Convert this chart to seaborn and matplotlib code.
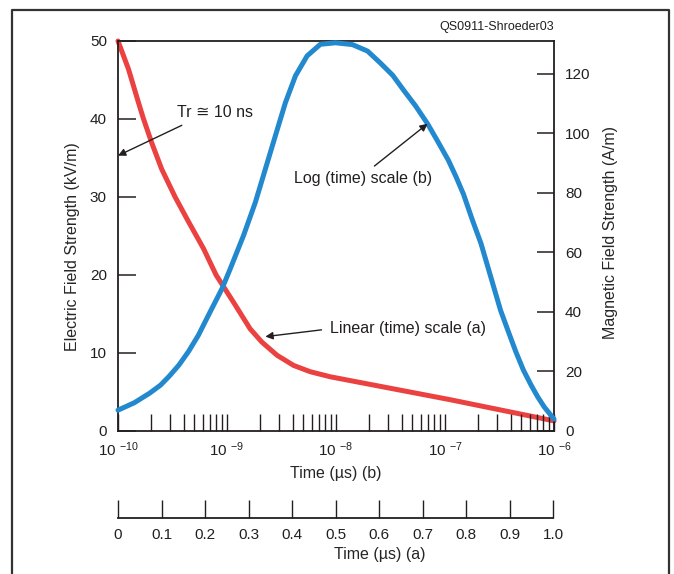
import numpy as np
import matplotlib
matplotlib.use('Agg')
import matplotlib.pyplot as plt
import seaborn as sns
from matplotlib.lines import Line2D
from matplotlib.ticker import LogLocator, NullFormatter, FixedLocator, FixedFormatter

# electric field vs linear time, curve (a)
e_time_us = [0.0, 0.024, 0.047, 0.058, 0.077, 0.100, 0.131, 0.162, 0.196, 0.225,
             0.265, 0.303, 0.330, 0.365, 0.403, 0.441, 0.487, 0.763, 1.0]
e_field_kvm = [50.0, 46.4, 42.1, 40.1, 37.0, 33.6, 30.0, 26.8, 23.4, 20.0,
               16.5, 13.1, 11.4, 9.7, 8.4, 7.6, 6.95, 4.0, 1.3]

# magnetic field vs log time, curve (b) -- time given as power of ten
h_time_exp = [-10.00, -9.85, -9.71, -9.61, -9.53, -9.44, -9.353, -9.262, -9.170, -9.046,
              -8.970, -8.848, -8.740, -8.648, -8.556, -8.464, -8.372, -8.265, -8.143, -8.005,
              -7.85, -7.71, -7.59, -7.48, -7.38, -7.27, -7.16, -7.07, -6.97, -6.90,
              -6.83, -6.75, -6.67, -6.61, -6.55, -6.49, -6.42, -6.35, -6.28, -6.21,
              -6.15, -6.09, -6.00]
h_field_am = [7.0, 9.5, 12.7, 15.4, 18.4, 22.2, 26.7, 32.2, 38.9, 47.8,
              54.5, 65.7, 76.8, 88.0, 99.2, 110.3, 119.3, 126.0, 129.9, 130.4,
              129.8, 127.6, 123.5, 119.5, 114.5, 109.2, 103.2, 97.5, 91.0, 85.5,
              79.5, 71.0, 63.0, 55.5, 48.0, 40.5, 33.5, 26.6, 20.4, 15.4,
              11.5, 8.1, 4.0]

e_ticks = [0, 10, 20, 30, 40, 50]
h_ticks = [0, 20, 40, 60, 80, 100, 120]
log_ticks = [1e-10, 1e-9, 1e-8, 1e-7, 1e-6]
log_labels = ['10 $^{-10}$', '10 $^{-9}$', '10 $^{-8}$', '10 $^{-7}$', '10 $^{-6}$']
lin_ticks = [0, 0.1, 0.2, 0.3, 0.4, 0.5, 0.6, 0.7, 0.8, 0.9, 1.0]
lin_labels = ['0', '0.1', '0.2', '0.3', '0.4', '0.5', '0.6', '0.7', '0.8', '0.9', '1.0']

RED = '#eb4141'
BLUE = '#2389cf'
INK = '#231f20'

sns.set_style('white')
plt.rcParams['font.family'] = ['Liberation Sans', 'DejaVu Sans']
plt.rcParams['mathtext.fontset'] = 'custom'
plt.rcParams['mathtext.rm'] = 'Liberation Sans'
plt.rcParams['mathtext.it'] = 'Liberation Sans'
plt.rcParams['text.color'] = INK
plt.rcParams['xtick.color'] = INK
plt.rcParams['ytick.color'] = INK

W, H = 674, 574
fig = plt.figure(figsize=(W / 100, H / 100), dpi=100)


def rect(x0, y0, x1, y1):
    return [x0 / W, 1 - y1 / H, (x1 - x0) / W, (y1 - y0) / H]


main = rect(118, 41, 554, 431)
ax_e = fig.add_axes(main)
ax_h = fig.add_axes(main, facecolor='none')

# linear time axes with electric field (left)
sns.lineplot(x=e_time_us, y=e_field_kvm, ax=ax_e, color=RED, linewidth=3.6,
             clip_on=False)
ax_e.set_xlim(0, 1)
ax_e.set_ylim(0, 50)
ax_e.xaxis.set_visible(False)
ax_e.set_yticks(e_ticks)
ax_e.tick_params(axis='y', left=True, direction='in', length=13, width=1.1,
                 labelsize=11, pad=8)
for s in ax_e.spines.values():
    s.set_color(INK)
    s.set_linewidth(1.3)
ax_e.set_ylabel('Electric Field Strength (kV/m)', fontsize=11.5)
ax_e.yaxis.set_label_coords(-0.087, 0.474)

# log time axes with magnetic field (right)
ax_h.set_xscale('log')
sns.lineplot(x=np.power(10.0, h_time_exp), y=h_field_am, ax=ax_h, color=BLUE,
             linewidth=3.6, clip_on=False)
ax_h.set_xlim(1e-10, 1e-6)
ax_h.set_ylim(0, 131)
for s in ax_h.spines.values():
    s.set_visible(False)
ax_h.yaxis.tick_right()
ax_h.yaxis.set_label_position('right')
ax_h.set_yticks(h_ticks)
ax_h.tick_params(axis='y', right=True, left=False, direction='in', length=12, width=1.1,
                 labelsize=11, pad=8)
ax_h.xaxis.set_major_locator(FixedLocator(log_ticks))
ax_h.xaxis.set_major_formatter(FixedFormatter(log_labels))
ax_h.xaxis.set_minor_locator(LogLocator(base=10, subs=np.arange(2, 10), numticks=20))
ax_h.xaxis.set_minor_formatter(NullFormatter())
ax_h.tick_params(axis='x', which='both', bottom=True, direction='in', length=12, width=1.0,
                 labelsize=11, pad=6.5)
ax_h.set_xlabel('Time (µs) (b)', fontsize=11.5, labelpad=5)
ax_h.set_ylabel('Magnetic Field Strength (A/m)', fontsize=11.5, rotation=90)
ax_h.yaxis.set_label_coords(1.112, 0.51)

# separate linear time scale underneath
ax_a = fig.add_axes(rect(118, 505, 553, 518), facecolor='none')
ax_a.set_xlim(0, 1)
ax_a.set_yticks([])
for name in ['top', 'left', 'right']:
    ax_a.spines[name].set_visible(False)
ax_a.spines['bottom'].set_color(INK)
ax_a.spines['bottom'].set_linewidth(1.3)
ax_a.set_xticks(lin_ticks)
ax_a.set_xticklabels(lin_labels)
ax_a.tick_params(axis='x', bottom=True, direction='in', length=13, width=1.0,
                 labelsize=11, pad=7)
ax_a.set_xlabel('Time (µs) (a)', fontsize=11.5, labelpad=4)
ax_a.xaxis.label.set_x((380 - 118) / 435)

# callouts
arrow = dict(arrowstyle='-|>', color=INK, lw=1.0, mutation_scale=11, shrinkB=0)
ax_e.annotate('Tr ≅ 10 ns', xy=(0.0, 35.3), xytext=(0.223, 40.8), ha='center', va='center',
              fontsize=11.5, arrowprops=dict(arrow, relpos=(0.2, 0.0), shrinkA=3))
ax_e.annotate('Linear (time) scale (a)', xy=(0.338, 12.1), xytext=(0.487, 13.2),
              ha='left', va='center', fontsize=11.5,
              arrowprops=dict(arrow, relpos=(0.0, 0.45), shrinkA=4))
ax_h.annotate('Log (time) scale (b)', xy=(10 ** -7.16, 103.2), xytext=(10 ** -7.756, 84.8),
              ha='center', va='center', fontsize=11.5,
              arrowprops=dict(arrow, relpos=(0.54, 1.0), shrinkA=2))

fig.text(554 / W, 1 - 27 / H, 'QS0911-Shroeder03', ha='right', va='center', fontsize=9)

# outer frame, open at the bottom
fig.add_artist(Line2D([12 / W, 12 / W, 669 / W, 669 / W], [0, 1 - 10 / H, 1 - 10 / H, 0],
                      transform=fig.transFigure, color='#333333', lw=1.6))

fig.savefig('out.png', dpi=100)
